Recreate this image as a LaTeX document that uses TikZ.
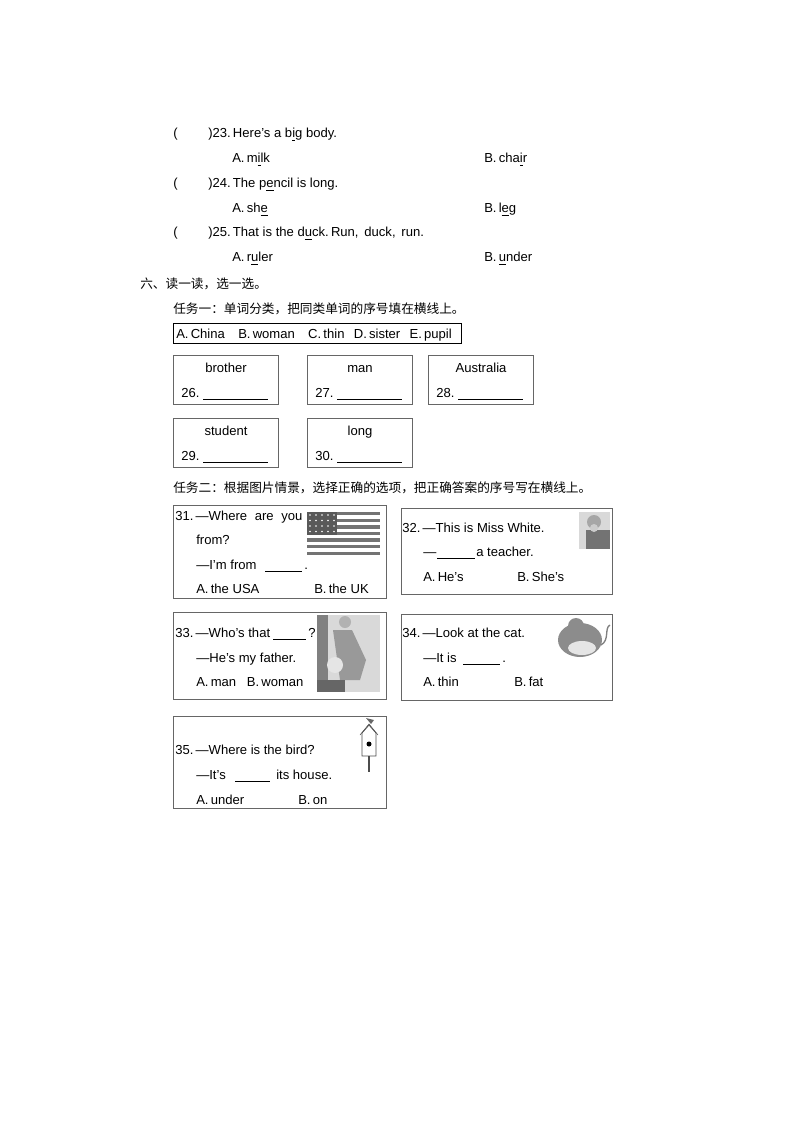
\documentclass[tikz,border=0pt]{standalone}
\usepackage{fontspec}
\setmainfont{Liberation Sans}
\newfontfamily\cjk{Noto Sans CJK SC}
\begin{document}
\begin{tikzpicture}[x=0.75pt,y=-0.75pt,
  t/.style={anchor=base west,inner sep=0pt,font=\fontsize{9.8}{11}\selectfont},
  c/.style={anchor=base west,inner sep=0pt,font=\cjk\fontsize{9.5}{11}\selectfont},
  bx/.style={draw=black!60,line width=0.7pt},
  bl/.style={line width=0.5pt}]
\useasboundingbox (0,0) rectangle (794,1123);
\newcommand{\ul}[1]{\underline{#1}}
% questions 23-25
\node[t] (p23) at (173,138) {(};
\node[t] (q23) at (208,138) {)23.\,Here's a b\ul{i}g body.};
\node[t] (a23) at (232,163) {A.\,m\ul{i}lk};
\node[t] (b23) at (484,163) {B.\,cha\ul{i}r};
\node[t] (p24) at (173,188) {(};
\node[t] (q24) at (208,188) {)24.\,The p\ul{e}ncil is long.};
\node[t] (a24) at (232,213) {A.\,sh\ul{e}};
\node[t] (b24) at (484,213) {B.\,l\ul{e}g};
\node[t] (p25) at (173,237) {(};
\node[t] (q25) at (208,237) {)25.\,That is the d\ul{u}ck.\,Run,\, duck,\, run.};
\node[t] (a25) at (232,262) {A.\,r\ul{u}ler};
\node[t] (b25) at (484,262) {B.\,\ul{u}nder};
\node[c] (h6) at (140,288) {六、读一读，选一选。};
\node[c] (task1) at (173,313) {任务一：单词分类，把同类单词的序号填在横线上。};
\draw[bl] (173,323) rectangle (461,343);
\node[t] (words) at (176,338) {A.\,China\hspace{10pt}B.\,woman\hspace{10pt}C.\,thin\hspace{7pt}D.\,sister\hspace{7pt}E.\,pupil};
% word boxes
\foreach \x/\y/\w/\n in {173/355/brother/26,307/355/man/27,428/355/Australia/28,173/418/student/29,307/418/long/30}{
  \draw[bx] (\x,\y) rectangle ++(105,49);
  \node[font=\fontsize{9.8}{11}\selectfont,anchor=base] at (\x+53,\y+17) {\w};
  \node[t] at (\x+8,\y+42) {\n.};
  \draw[bl] (\x+30,\y+44) -- ++(65,0);
}
\node[c] (task2) at (173,492) {任务二：根据图片情景，选择正确的选项，把正确答案的序号写在横线上。};
% box 31
\draw[bx] (173,505) rectangle (386,598);
\node[t] at (175,520) {31.\,—Where\hspace{3pt} are\hspace{3pt} you};
\node[t] at (196,544) {from?};
\node[t] at (196,569) {—I'm from};
\draw[bl] (265,571) -- (302,571);
\node[t] at (304,569) {.};
\node[t] at (196,593) {A.\,the USA};
\node[t] at (314,593) {B.\,the UK};
\foreach \i in {0,...,6}{\fill[black!55] (307,512+\i*6.6) rectangle (380,512+\i*6.6+3.3);}
\fill[black!65] (307,512) rectangle (337,535);
\foreach \i in {0,...,4}{\foreach \j in {0,...,3}{\fill[white] (310+\i*6,515+\j*5.5) circle (0.8);}}
% box 32
\draw[bx] (401,508) rectangle (612,594);
\node[t] at (402,532) {32.\,—This is Miss White.};
\node[t] at (423,556) {—};
\draw[bl] (437,558) -- (475,558);
\node[t] at (476,556) {a teacher.};
\node[t] at (423,581) {A.\,He's};
\node[t] at (517,581) {B.\,She's};
\fill[black!15] (579,512) rectangle (610,549);
\fill[black!55] (586,530) rectangle (610,549);
\fill[black!35] (594,522) circle (7);
\fill[black!20] (594,528) circle (4);
% box 33
\draw[bx] (173,612) rectangle (386,699);
\node[t] at (175,637) {33.\,—Who's that};
\draw[bl] (273,639) -- (306,639);
\node[t] at (308,637) {?};
\node[t] at (196,662) {—He's my father.};
\node[t] at (196,686) {A.\,man\hspace{8pt}B.\,woman};
\fill[black!15] (317,615) rectangle (380,692);
\fill[black!50] (317,615) rectangle (328,692);
\fill[black!40] (333,630) -- (352,630) -- (366,660) -- (360,680) -- (340,680) -- cycle;
\fill[black!30] (345,622) circle (6);
\fill[black!10] (335,665) circle (8);
\fill[black!60] (317,680) rectangle (345,692);
% box 34
\draw[bx] (401,614) rectangle (612,700);
\node[t] at (402,637) {34.\,—Look at the cat.};
\node[t] at (423,662) {—It is};
\draw[bl] (463,664) -- (500,664);
\node[t] at (502,662) {.};
\node[t] at (423,686) {A.\,thin};
\node[t] at (514,686) {B.\,fat};
\fill[black!45] (580,640) ellipse (22 and 17);
\fill[black!10] (582,648) ellipse (14 and 7);
\fill[black!45] (576,626) circle (8);
\draw[black!50,line width=1pt] (601,645) .. controls (610,640) and (604,628) .. (610,625);
% box 35
\draw[bx] (173,716) rectangle (386,808);
\node[t] at (175,754) {35.\,—Where is the bird?};
\node[t] at (196,779) {—It's};
\draw[bl] (235,781) -- (270,781);
\node[t] at (276,779) {its house.};
\node[t] at (196,804) {A.\,under};
\node[t] at (298,804) {B.\,on};
\draw[black!70,line width=0.6pt] (362,733) -- (369,725) -- (376,733) -- (376,756) -- (362,756) -- cycle;
\draw[black!70] (360,735) -- (369,724) -- (378,735);
\fill[black] (369,744) circle (2.5);
\draw[black!70,line width=1pt] (369,756) -- (369,772);
\fill[black!60] (366,718) -- (374,720) -- (371,724) -- cycle;
\end{tikzpicture}
\end{document}
